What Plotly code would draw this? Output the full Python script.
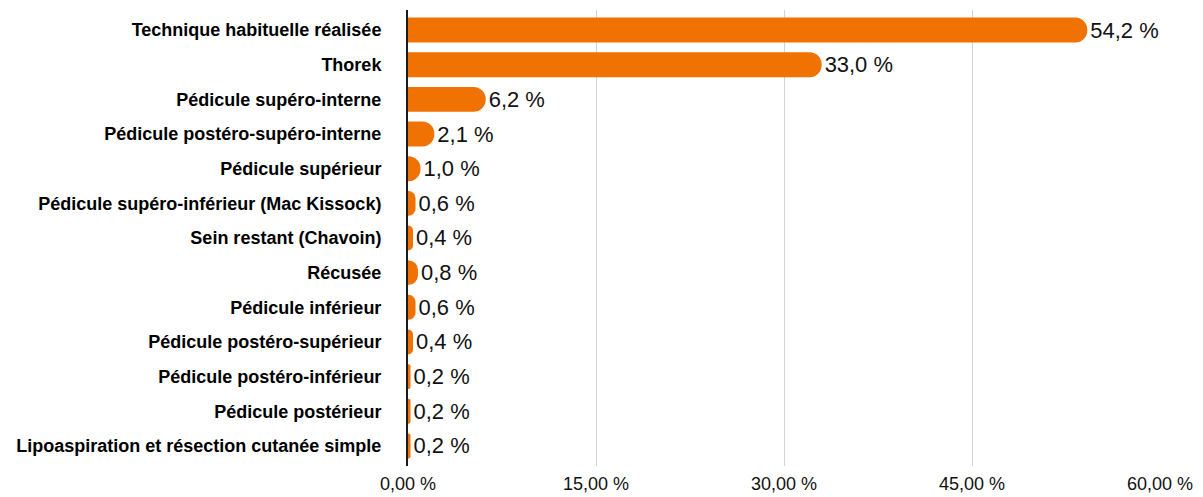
import plotly.graph_objects as go

# Techniques de réduction mammaire : part de chaque technique (%)
categories = [
    "Technique habituelle réalisée",
    "Thorek",
    "Pédicule supéro-interne",
    "Pédicule postéro-supéro-interne",
    "Pédicule supérieur",
    "Pédicule supéro-inférieur (Mac Kissock)",
    "Sein restant (Chavoin)",
    "Récusée",
    "Pédicule inférieur",
    "Pédicule postéro-supérieur",
    "Pédicule postéro-inférieur",
    "Pédicule postérieur",
    "Lipoaspiration et résection cutanée simple",
]
values = [54.2, 33.0, 6.2, 2.1, 1.0, 0.6, 0.4, 0.8, 0.6, 0.4, 0.2, 0.2, 0.2]

x_ticks = [0, 15, 30, 45, 60]
x_tick_labels = ["0,00 %", "15,00 %", "30,00 %", "45,00 %", "60,00 %"]

ORANGE = "#EF7203"
FONT = "Liberation Sans, Arial, Helvetica, sans-serif"

fig = go.Figure(
    go.Bar(
        x=values,
        y=categories,
        orientation="h",
        marker=dict(color=ORANGE, cornerradius=13, line=dict(width=0)),
        texttemplate="%{x:.1f} %",
        textposition="outside",
        textfont=dict(family=FONT, size=22, color="#111111"),
        cliponaxis=False,
        hoverinfo="skip",
    )
)

fig.update_layout(
    width=1203,
    height=497,
    margin=dict(l=408, r=43, t=10, b=31),
    paper_bgcolor="white",
    plot_bgcolor="white",
    separators=", ",
    bargap=0.28,
    showlegend=False,
    font=dict(family=FONT, color="#111111"),
)

fig.update_xaxes(
    range=[0, 60],
    tickvals=x_ticks,
    ticktext=x_tick_labels,
    showgrid=True,
    gridcolor="#D3D3D3",
    gridwidth=1,
    zeroline=False,
    showline=False,
    ticks="",
    tickfont=dict(family=FONT, size=18, color="#111111"),
    ticklabelstandoff=5,
    automargin=False,
)

fig.update_yaxes(
    categoryorder="array",
    categoryarray=categories,
    range=[12.58, -0.58],
    showgrid=False,
    zeroline=False,
    showline=True,
    linecolor="#1A1A1A",
    linewidth=2,
    ticks="",
    tickfont=dict(family=FONT, size=18, color="#000000", weight="bold"),
    ticklabelstandoff=21,
    automargin=False,
)

fig.write_html("out.html")
